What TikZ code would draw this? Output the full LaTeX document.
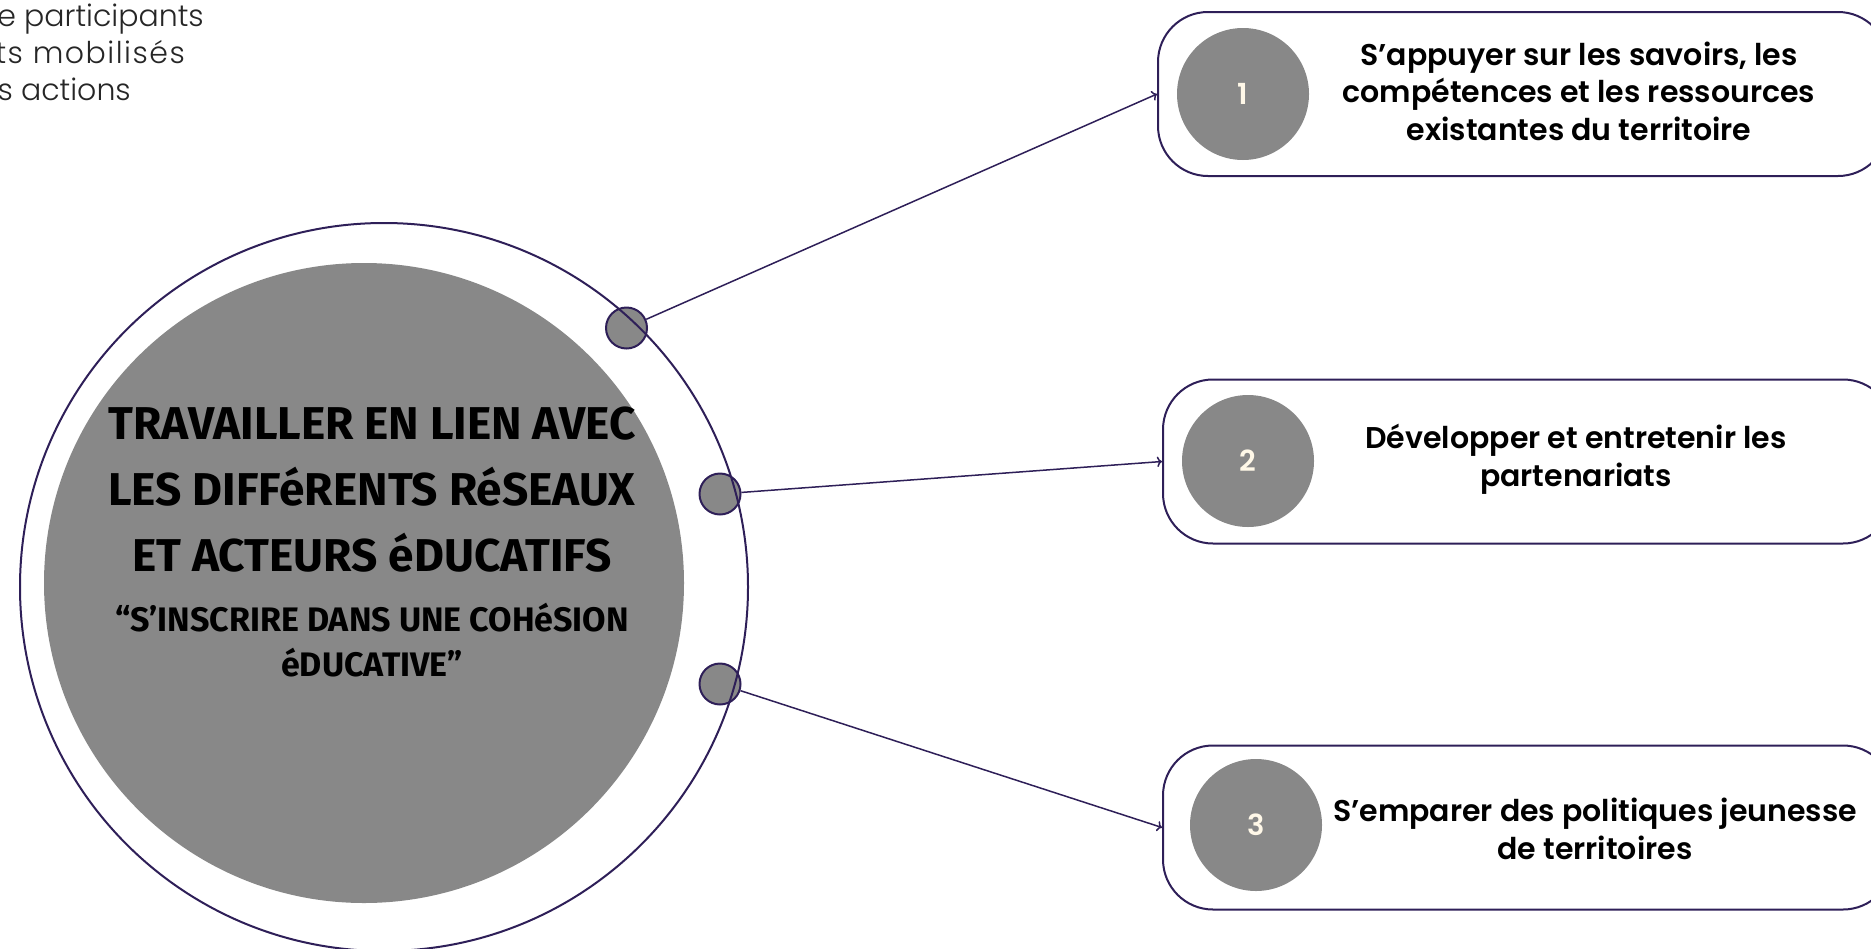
\documentclass[tikz,border=0pt]{standalone}
\usepackage{fontspec}
\setmainfont{Poppins}[BoldFont={* SemiBold}]
\newfontfamily\titlefont{Fira Sans}[UprightFont={* Bold}]
\newfontfamily\lightfont{Poppins Light}
\usetikzlibrary{arrows.meta}
\definecolor{ink}{RGB}{46,31,88}
\definecolor{disc}{RGB}{136,136,136}
\definecolor{cream}{RGB}{255,248,232}

\begin{document}
\begin{tikzpicture}[x=1pt,y=-1pt,
  dot/.style={circle, fill=disc, draw=ink, line width=2pt, minimum size=41pt, inner sep=0pt},
  badge/.style={circle, fill=disc, minimum size=132pt, inner sep=0pt, text=cream, font=\bfseries\fontsize{29}{29}\selectfont},
  card/.style={draw=ink, line width=2pt, rounded corners=50pt, anchor=west, minimum width=730pt, minimum height=164pt},
  cardtext/.style={align=center, font=\bfseries\fontsize{30}{37.5}\selectfont},
  note/.style={anchor=base east, inner sep=0pt, text=black!85, font=\lightfont\fontsize{30}{30}\selectfont},
  link/.style={draw=ink, line width=1.5pt, -{To[length=5pt]}}]
\useasboundingbox (0,0) rectangle (1871,948);
\clip (0,0) rectangle (1871,948);
% cut text, top left
\node[note] (note1) at (204,26) {e participants};
\node[note] (note2) at (185,63) {\addfontfeature{LetterSpace=5}ts mobilisés};
\node[note] (note3) at (131,100) {s actions};
% central disc
\node[circle, fill=disc, minimum size=640pt, inner sep=0pt] (core) at (364,583) {};
\node[dot] (dot1) at (626.5,328) {};
\node[dot] (dot2) at (720,494) {};
\node[dot] (dot3) at (720,684) {};
\node[circle, draw=ink, line width=2pt, minimum size=728pt, inner sep=0pt] (ring) at (384,587) {};
\node[align=center, font=\titlefont\fontsize{46}{66}\selectfont] (title) at (372,490) {TRAVAILLER EN LIEN AVEC\\LES DIFFéRENTS RéSEAUX\\ET ACTEURS éDUCATIFS};
\node[align=center, font=\titlefont\fontsize{34}{45}\selectfont] (subtitle) at (372,640) {“S’INSCRIRE DANS UNE COHéSION\\éDUCATIVE”};
% cards
\node[card] (box1) at (1157,94) {};
\node[card] (box2) at (1162,461.5) {};
\node[card] (box3) at (1162,827.5) {};
\node[badge] (num1) at (1243,94) {1};
\node[badge] (num2) at (1248,461) {2};
\node[badge] (num3) at (1256,825) {3};
\node[cardtext] (txt1) at (1579,91) {S’appuyer sur les savoirs, les\\compétences et les ressources\\existantes du territoire};
\node[cardtext] (txt2) at (1576,459) {Développer et entretenir les\\partenariats};
\node[cardtext] (txt3) at (1595,829) {S’emparer des politiques jeunesse\\de territoires};
\draw[link] (dot1) -- (box1.west);
\draw[link] (dot2) -- (box2.west);
\draw[link] (dot3) -- (box3.west);
\end{tikzpicture}
\end{document}
